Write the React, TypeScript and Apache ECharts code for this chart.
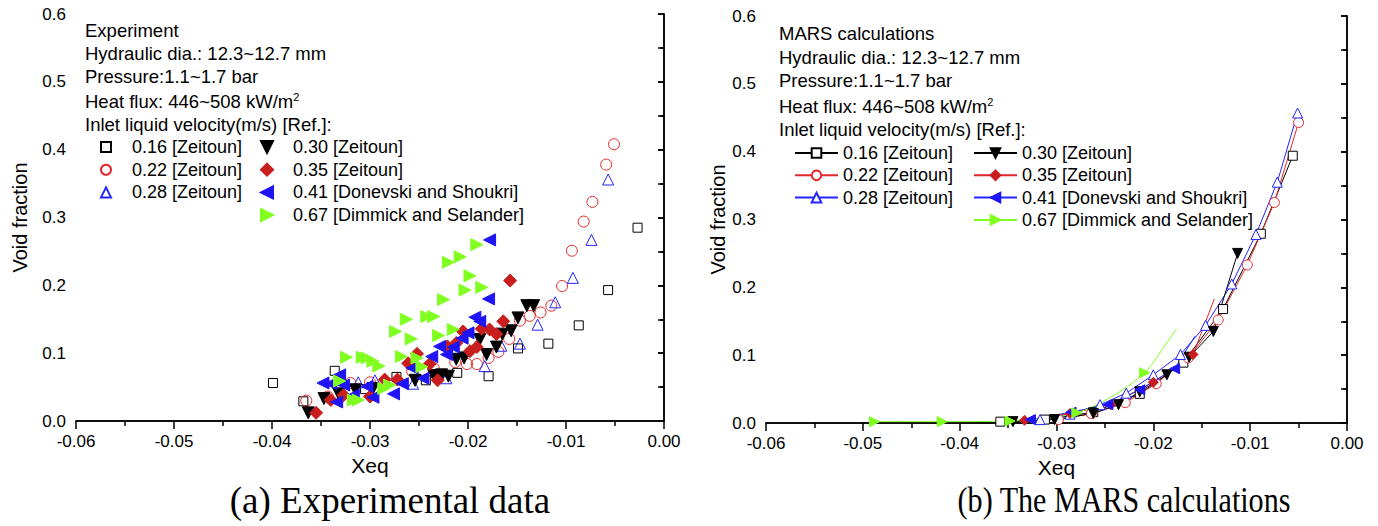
import React, { useEffect, useRef } from 'react';
import * as echarts from 'echarts';

// ---------------- data ----------------
const seriesNames = [
  '0.16 [Zeitoun]',
  '0.22 [Zeitoun]',
  '0.28 [Zeitoun]',
  '0.30 [Zeitoun]',
  '0.35 [Zeitoun]',
  '0.41 [Donevski and Shoukri]',
  '0.67 [Dimmick and Selander]',
];

const xTicks = [-0.06, -0.05, -0.04, -0.03, -0.02, -0.01, 0.0];
const yTicks = [0.0, 0.1, 0.2, 0.3, 0.4, 0.5, 0.6];

// (a) experimental data [Xeq, void fraction]
const exp016 = [
  [-0.0399, 0.056], [-0.0368, 0.029], [-0.0336, 0.074], [-0.0305, 0.047], [-0.0273, 0.065],
  [-0.0243, 0.060], [-0.0211, 0.071], [-0.0179, 0.066], [-0.0149, 0.107], [-0.0118, 0.114],
  [-0.0087, 0.141], [-0.0057, 0.193], [-0.0027, 0.285],
];
const exp022 = [
  [-0.0365, 0.030], [-0.0343, 0.036], [-0.0320, 0.056], [-0.0300, 0.057], [-0.0257, 0.073],
  [-0.0235, 0.078], [-0.0213, 0.087], [-0.0201, 0.084], [-0.0191, 0.084], [-0.0179, 0.093],
  [-0.0169, 0.102], [-0.0158, 0.121], [-0.0147, 0.148], [-0.0137, 0.155], [-0.0126, 0.160],
  [-0.0115, 0.170], [-0.0104, 0.199], [-0.0094, 0.251], [-0.0082, 0.294], [-0.0073, 0.323],
  [-0.0059, 0.378], [-0.0051, 0.408],
];
const exp028 = [
  [-0.0312, 0.057], [-0.0295, 0.060], [-0.0256, 0.055], [-0.0222, 0.063], [-0.0183, 0.081],
  [-0.0166, 0.111], [-0.0147, 0.114], [-0.0129, 0.142], [-0.0111, 0.175], [-0.0093, 0.211],
  [-0.0074, 0.267], [-0.0057, 0.356],
];
const exp030 = [
  [-0.0363, 0.012], [-0.0347, 0.033], [-0.0332, 0.040], [-0.0315, 0.046], [-0.0297, 0.048],
  [-0.0254, 0.060], [-0.0235, 0.067], [-0.0227, 0.068], [-0.0220, 0.066], [-0.0212, 0.091],
  [-0.0204, 0.093], [-0.0188, 0.120], [-0.0181, 0.098], [-0.0171, 0.109], [-0.0165, 0.128],
  [-0.0156, 0.133], [-0.0149, 0.152], [-0.0140, 0.170], [-0.0133, 0.170],
];
const exp035 = [
  [-0.0355, 0.012], [-0.0340, 0.031], [-0.0327, 0.038], [-0.0300, 0.036], [-0.0285, 0.061],
  [-0.0272, 0.061], [-0.0261, 0.085], [-0.0252, 0.099], [-0.0239, 0.084], [-0.0231, 0.060],
  [-0.0221, 0.110], [-0.0212, 0.115], [-0.0205, 0.132], [-0.0198, 0.103], [-0.0191, 0.109],
  [-0.0186, 0.136], [-0.0178, 0.135], [-0.0171, 0.128], [-0.0164, 0.147], [-0.0157, 0.207],
];
const exp041 = [
  [-0.0348, 0.056], [-0.0340, 0.055], [-0.0334, 0.028], [-0.0331, 0.068], [-0.0327, 0.053],
  [-0.0317, 0.038], [-0.0303, 0.051], [-0.0297, 0.035], [-0.0276, 0.040], [-0.0267, 0.055],
  [-0.0257, 0.078], [-0.0246, 0.063], [-0.0237, 0.095], [-0.0229, 0.110], [-0.0222, 0.098],
  [-0.0215, 0.109], [-0.0206, 0.122], [-0.0200, 0.130], [-0.0193, 0.153], [-0.0188, 0.147],
  [-0.0179, 0.180], [-0.0178, 0.267],
];
const exp067 = [
  [-0.0331, 0.059], [-0.0324, 0.094], [-0.0317, 0.031], [-0.0312, 0.031], [-0.0308, 0.094],
  [-0.0303, 0.093], [-0.0297, 0.088], [-0.0291, 0.081], [-0.0286, 0.048], [-0.0280, 0.053],
  [-0.0274, 0.132], [-0.0268, 0.095], [-0.0263, 0.150], [-0.0258, 0.121], [-0.0252, 0.093],
  [-0.0247, 0.080], [-0.0242, 0.154], [-0.0235, 0.154], [-0.0230, 0.126], [-0.0225, 0.179],
  [-0.0220, 0.234], [-0.0215, 0.135], [-0.0208, 0.242], [-0.0203, 0.193], [-0.0198, 0.214],
  [-0.0191, 0.260], [-0.0186, 0.197],
];

// (b) MARS calculations [Xeq, void fraction, marker shown (1) or not (0)]
const mars016 = [
  [-0.0358, 0.002, 1], [-0.0312, 0.005, 1], [-0.0262, 0.016, 1], [-0.0214, 0.043, 1],
  [-0.0169, 0.089, 1], [-0.0128, 0.168, 1], [-0.0089, 0.279, 1], [-0.0056, 0.394, 1],
];
const mars022 = [
  [-0.0298, 0.005, 1], [-0.0264, 0.014, 1], [-0.0229, 0.030, 1], [-0.0197, 0.058, 1],
  [-0.0164, 0.096, 1], [-0.0133, 0.152, 1], [-0.0103, 0.233, 1], [-0.0075, 0.325, 1],
  [-0.0050, 0.443, 1],
];
const mars028 = [
  [-0.0317, 0.005, 1], [-0.0286, 0.013, 1], [-0.0255, 0.027, 1], [-0.0228, 0.044, 1],
  [-0.0200, 0.071, 1], [-0.0172, 0.101, 1], [-0.0146, 0.144, 1], [-0.0119, 0.205, 1],
  [-0.0094, 0.278, 1], [-0.0072, 0.355, 1], [-0.0051, 0.457, 1],
];
const mars030 = [
  [-0.0345, 0.002, 1], [-0.0302, 0.005, 1], [-0.0262, 0.014, 1], [-0.0236, 0.027, 1],
  [-0.0214, 0.046, 1], [-0.0186, 0.071, 1], [-0.0163, 0.097, 1], [-0.0138, 0.135, 1],
  [-0.0113, 0.250, 1],
];
const mars035 = [
  [-0.0333, 0.004, 1], [-0.0286, 0.014, 1], [-0.0244, 0.027, 1], [-0.0200, 0.060, 1],
  [-0.0159, 0.101, 1], [-0.0137, 0.183, 0],
];
const mars041 = [
  [-0.0327, 0.005, 1], [-0.0285, 0.016, 1], [-0.0247, 0.027, 1], [-0.0214, 0.049, 1],
  [-0.0178, 0.080, 1], [-0.0157, 0.128, 0],
];
const mars067 = [
  [-0.0488, 0.002, 1], [-0.0418, 0.002, 1], [-0.0348, 0.003, 1], [-0.0313, 0.007, 0],
  [-0.0279, 0.015, 1], [-0.0244, 0.038, 0], [-0.0209, 0.074, 1], [-0.0192, 0.106, 0],
  [-0.0176, 0.139, 0],
];

const expHeader = [
  'Experiment',
  'Hydraulic dia.: 12.3~12.7 mm',
  'Pressure:1.1~1.7 bar',
  'Heat flux: 446~508 kW/m{sup|2}',
  'Inlet liquid velocity(m/s) [Ref.]:',
];
const marsHeader = [
  'MARS calculations',
  'Hydraulic dia.: 12.3~12.7 mm',
  'Pressure:1.1~1.7 bar',
  'Heat flux: 446~508 kW/m{sup|2}',
  'Inlet liquid velocity(m/s) [Ref.]:',
];

// ---------------- styles ----------------
const SANS = '"Liberation Sans", Arial, Helvetica, sans-serif';
const SERIF = '"Liberation Serif", "Times New Roman", serif';
const OPEN = 'rgba(255,255,255,0)';

const markerStyles = [
  { symbol: 'rect', size: 9, rotate: 0, fill: OPEN, stroke: '#000000', icon: 'path://M0,0L10,0L10,10L0,10Z' },
  { symbol: 'circle', size: 11, rotate: 0, fill: OPEN, stroke: '#e3262a', icon: 'circle' },
  { symbol: 'triangle', size: 11, rotate: 0, fill: OPEN, stroke: '#2424ff', icon: 'path://M6,0L12,12L0,12Z' },
  { symbol: 'triangle', size: 12, rotate: 180, fill: '#000000', stroke: '#000000', icon: 'path://M0,0L12,0L6,12Z' },
  { symbol: 'diamond', size: 13, rotate: 0, fill: '#c81e1e', stroke: '#c81e1e', icon: 'path://M6,0L12,6L6,12L0,6Z' },
  { symbol: 'triangle', size: 12, rotate: 90, fill: '#1e14f5', stroke: '#1e14f5', icon: 'path://M12,0L12,12L0,6Z' },
  { symbol: 'triangle', size: 12, rotate: -90, fill: '#80ff20', stroke: '#80ff20', icon: 'path://M0,0L0,12L12,6Z' },
];
const lineColors = ['#000000', '#e3262a', '#2424ff', '#000000', '#e3262a', '#2424ff', '#80ff20'];

const expData = [exp016, exp022, exp028, exp030, exp035, exp041, exp067];
const marsData = [mars016, mars022, mars028, mars030, mars035, mars041, mars067];

function buildOption(): any {
  const axisLabel = { fontSize: 17, fontFamily: SANS, color: '#000' };
  const axisLine = { show: true, lineStyle: { color: '#000', width: 1.5 } };
  const mkX = (grid: number) => ({
    type: 'value', gridIndex: grid, min: xTicks[0], max: xTicks[xTicks.length - 1], interval: 0.01,
    position: 'bottom',
    name: 'Xeq', nameLocation: 'middle', nameGap: 34,
    nameTextStyle: { fontSize: 21, fontFamily: SANS, color: '#000' },
    axisLine, splitLine: { show: false },
    axisTick: { show: true, inside: false, length: 8, lineStyle: { color: '#000', width: 1.5 } },
    minorTick: { show: true, splitNumber: 2, length: 5, lineStyle: { color: '#000', width: 1.5 } },
    axisLabel: { ...axisLabel, margin: 12, formatter: (v: number) => (Math.abs(v) < 1e-9 ? 0 : v).toFixed(2) },
  });
  const mkXTop = (grid: number) => ({
    type: 'value', gridIndex: grid, min: -0.06, max: 0, position: 'top',
    axisLine, axisTick: { show: false }, axisLabel: { show: false }, splitLine: { show: false },
  });
  const mkY = (grid: number, gap: number) => ({
    type: 'value', gridIndex: grid, min: yTicks[0], max: yTicks[yTicks.length - 1], interval: 0.1,
    position: 'left',
    name: 'Void fraction', nameLocation: 'middle', nameGap: gap,
    nameTextStyle: { fontSize: 20, fontFamily: SANS, color: '#000' },
    axisLine, splitLine: { show: false },
    axisTick: { show: true, inside: false, length: 6, lineStyle: { color: '#000', width: 1.5 } },
    minorTick: { show: true, splitNumber: 2, length: 4, lineStyle: { color: '#000', width: 1.5 } },
    axisLabel: { ...axisLabel, margin: 10, formatter: (v: number) => v.toFixed(1) },
  });
  const mkYRight = (grid: number) => ({
    type: 'value', gridIndex: grid, min: 0, max: 0.6, interval: 0.05, position: 'right',
    axisLine, splitLine: { show: false },
    axisTick: { show: true, inside: true, length: 6, lineStyle: { color: '#000', width: 1.5 } },
    axisLabel: { show: false },
  });

  const series: any[] = [];
  expData.forEach((d, i) => {
    const m = markerStyles[i];
    series.push({
      type: 'scatter', name: seriesNames[i], xAxisIndex: 0, yAxisIndex: 0,
      data: d, symbol: m.symbol, symbolSize: m.size, symbolRotate: m.rotate,
      itemStyle: { color: m.fill, borderColor: m.stroke, borderWidth: 1, opacity: 1 },
      emphasis: { disabled: true },
    });
  });
  marsData.forEach((d, i) => {
    const m = markerStyles[i];
    series.push({
      type: 'line', name: 'MARS ' + seriesNames[i], xAxisIndex: 2, yAxisIndex: 2,
      data: d.map((p) => (p[2] ? { value: [p[0], p[1]] } : { value: [p[0], p[1]], symbol: 'none' })),
      symbol: m.symbol, symbolSize: i === 0 ? 9 : 10, symbolRotate: m.rotate, showSymbol: true,
      smooth: i === 6 ? 0.35 : false,
      lineStyle: { color: lineColors[i], width: 1 },
      itemStyle: {
        color: m.fill === OPEN ? '#ffffff' : m.fill,
        borderColor: m.stroke, borderWidth: 1,
      },
      emphasis: { disabled: true },
    });
  });

  const legendText = { fontSize: 18, fontFamily: SANS, color: '#000', lineHeight: 18 };
  const legends = [
    {
      left: 100, top: 138, padding: 0, orient: 'vertical', itemWidth: 42, itemHeight: 10, itemGap: 4.7,
      selectedMode: false, textStyle: legendText,
      data: seriesNames.slice(0, 3).map((n, i) => ({ name: n, icon: markerStyles[i].icon })),
    },
    {
      left: 260, top: 138, padding: 0, orient: 'vertical', itemWidth: 42, itemHeight: 12, itemGap: 4.7,
      selectedMode: false, textStyle: legendText,
      data: seriesNames.slice(3).map((n, i) => ({ name: n, icon: markerStyles[i + 3].icon })),
    },
    {
      left: 794, top: 144, padding: 0, orient: 'vertical', itemWidth: 43, itemHeight: 12, itemGap: 4.3,
      selectedMode: false, textStyle: legendText,
      formatter: (n: string) => n.slice(5),
      data: seriesNames.slice(0, 3).map((n) => 'MARS ' + n),
    },
    {
      left: 973, top: 144, padding: 0, orient: 'vertical', itemWidth: 43, itemHeight: 12, itemGap: 4.3,
      selectedMode: false, textStyle: legendText,
      formatter: (n: string) => n.slice(5),
      data: seriesNames.slice(3).map((n) => 'MARS ' + n),
    },
  ];

  const headerYsA = [30, 53, 76, 100, 124];
  const headerYsB = [33, 57, 80, 105, 129];
  const graphics: any[] = [];
  const rich = { sup: { fontSize: 11, fontFamily: SANS, verticalAlign: 'top', padding: [0, 0, 9, 0] } };
  expHeader.forEach((t, i) => {
    graphics.push({
      type: 'text', left: 85, top: headerYsA[i] - 9,
      style: { text: t, fontSize: 18.5, fontFamily: SANS, fill: '#000', rich },
    });
  });
  marsHeader.forEach((t, i) => {
    graphics.push({
      type: 'text', left: 779, top: headerYsB[i] - 9,
      style: { text: t, fontSize: 18.5, fontFamily: SANS, fill: '#000', rich },
    });
  });
  graphics.push({
    type: 'text', x: 390, y: 500,
    style: { text: '(a) Experimental data', fontSize: 37, fontFamily: SERIF, fill: '#000', align: 'center', verticalAlign: 'middle' },
  });
  graphics.push({
    type: 'text', x: 1124, y: 500, scaleX: 0.86,
    style: { text: '(b) The MARS calculations', fontSize: 35, fontFamily: SERIF, fill: '#000', align: 'center', verticalAlign: 'middle' },
  });

  return {
    animation: false,
    backgroundColor: '#ffffff',
    grid: [
      { left: 76, top: 14, width: 588, height: 407 },
      { left: 766, top: 16, width: 581, height: 407 },
    ],
    xAxis: [mkX(0), mkXTop(0), mkX(1), mkXTop(1)],
    yAxis: [mkY(0, 46), mkYRight(0), mkY(1, 27), mkYRight(1)],
    legend: legends,
    graphic: graphics,
    series,
  };
}

export default function App() {
  const ref = useRef<HTMLDivElement>(null);
  useEffect(() => {
    if (!ref.current) return;
    const chart = echarts.init(ref.current, null, { renderer: 'svg' });
    chart.setOption(buildOption());
    return () => chart.dispose();
  }, []);
  return (
    <div
      ref={ref}
      style={{ position: 'fixed', left: 0, top: 0, width: 1378, height: 526, background: '#fff' }}
    />
  );
}
